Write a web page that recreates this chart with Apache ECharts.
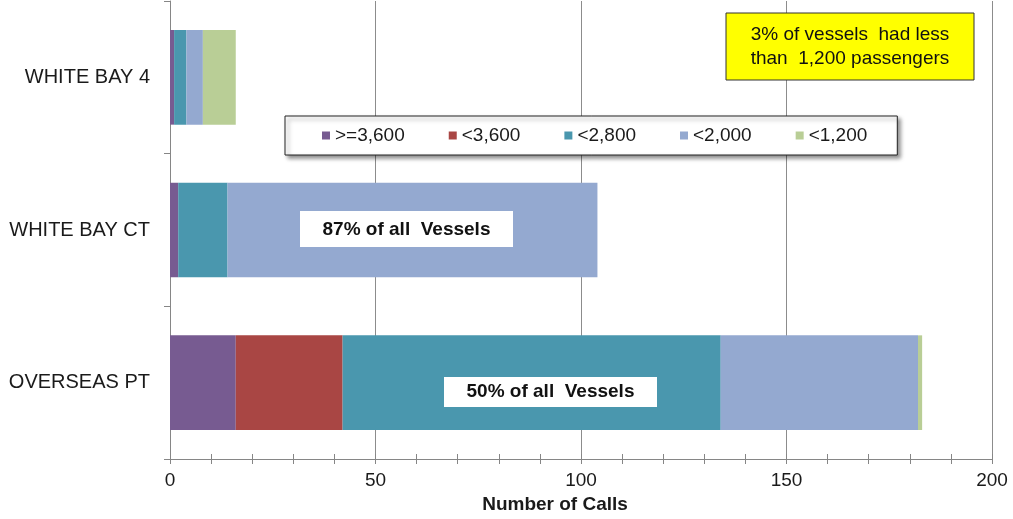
<!DOCTYPE html>
<html>
<head>
<meta charset="utf-8">
<script src="https://cdn.jsdelivr.net/npm/echarts@6/dist/echarts.min.js"></script>
<style>
  html, body { margin: 0; padding: 0; background: #fff; }
  #chart { width: 1013px; height: 519px; }
</style>
</head>
<body>
<div id="chart"></div>
<script>
// Terminals, listed top to bottom
const terminals = ['WHITE BAY 4', 'WHITE BAY CT', 'OVERSEAS PT'];

// Number of calls by vessel passenger capacity
const calls3600Plus = [1, 2, 16];
const calls3600 = [0, 0, 26];
const calls2800 = [3, 12, 92];
const calls2000 = [4, 90, 48];
const calls1200 = [8, 0, 1];

const seriesNames = ['>=3,600', '<3,600', '<2,800', '<2,000', '<1,200'];
const seriesColors = ['#775B91', '#A94644', '#4A97AE', '#94A9D0', '#B9CE96'];
const seriesValues = [calls3600Plus, calls3600, calls2800, calls2000, calls1200];

const xTicks = { min: 0, max: 200, interval: 50 };

const FONT = '"Liberation Sans", Arial, sans-serif';
const axisGray = '#868686';

const chart = echarts.init(document.getElementById('chart'));

const series = seriesNames.map((name, i) => ({
  name: name,
  type: 'bar',
  stack: 'calls',
  barCategoryGap: '38%',
  itemStyle: { color: seriesColors[i] },
  emphasis: { disabled: true },
  data: seriesValues[i]
}));

// Boxed annotation: a filled rectangle with centred text on top
function noteBox(rect, fill, stroke, cx, cy, text, fontWeight, lineHeight) {
  return [
    {
      type: 'rect',
      z: 100,
      shape: rect,
      style: stroke ? { fill: fill, stroke: stroke, lineWidth: 1 } : { fill: fill }
    },
    {
      type: 'text',
      z: 101,
      x: cx,
      y: cy,
      style: {
        text: text,
        fontSize: 19,
        fontWeight: fontWeight,
        lineHeight: lineHeight,
        fontFamily: FONT,
        fill: '#111',
        align: 'center',
        verticalAlign: 'middle'
      }
    }
  ];
}

chart.setOption({
  animation: false,
  textStyle: { fontFamily: FONT },
  grid: { left: 170, right: 21, top: 1, bottom: 57 },
  legend: {
    data: seriesNames,
    left: 285,
    top: 116,
    orient: 'horizontal',
    icon: 'rect',
    itemWidth: 8,
    itemHeight: 8,
    itemGap: 44,
    padding: [10, 30, 10, 37],
    backgroundColor: '#fff',
    borderColor: '#222',
    borderWidth: 1,
    shadowColor: 'rgba(0,0,0,0.45)',
    shadowBlur: 4,
    shadowOffsetX: 3,
    shadowOffsetY: 3,
    textStyle: { fontSize: 19, color: '#1a1a1a', fontFamily: FONT },
    selectedMode: false
  },
  xAxis: [
    {
      type: 'value',
      position: 'bottom',
      min: xTicks.min,
      max: xTicks.max,
      interval: xTicks.interval,
      name: 'Number of Calls',
      nameLocation: 'middle',
      nameGap: 36,
      nameTextStyle: { fontSize: 19, fontWeight: 'bold', color: '#1a1a1a', fontFamily: FONT, padding: [0, 52, 0, 0] },
      axisLine: { show: true, lineStyle: { color: axisGray, width: 1 } },
      axisTick: { show: true, length: 5, lineStyle: { color: axisGray } },
      minorTick: { show: true, splitNumber: 5, length: 5, lineStyle: { color: axisGray } },
      axisLabel: { fontSize: 19, color: '#1a1a1a', margin: 12, fontFamily: FONT },
      splitLine: { show: true, lineStyle: { color: '#8c8c8c', width: 1 } }
    },
    {
      // inner half of the crossing tick marks
      type: 'value',
      position: 'bottom',
      min: xTicks.min,
      max: xTicks.max,
      interval: xTicks.interval,
      axisLine: { show: false },
      axisTick: { show: true, inside: true, length: 5, lineStyle: { color: axisGray } },
      minorTick: { show: true, splitNumber: 5, length: 5, lineStyle: { color: axisGray } },
      axisLabel: { show: false },
      splitLine: { show: false }
    }
  ],
  yAxis: {
    type: 'category',
    data: terminals,
    inverse: true,
    axisLine: { show: true, lineStyle: { color: axisGray, width: 1 } },
    axisTick: { show: true, length: 6, lineStyle: { color: axisGray } },
    axisLabel: { fontSize: 20, color: '#1a1a1a', margin: 20, fontFamily: FONT }
  },
  series: series,
  graphic: [].concat(
    noteBox({ x: 726, y: 13, width: 248, height: 67 }, '#FFFF00', '#333', 850, 46.5,
      '3% of vessels  had less\nthan  1,200 passengers', 'normal', 24),
    noteBox({ x: 300, y: 211, width: 213, height: 36 }, '#fff', null, 406.5, 229.5,
      '87% of all  Vessels', 'bold', 22),
    noteBox({ x: 444, y: 377, width: 213, height: 30 }, '#fff', null, 550.5, 392,
      '50% of all  Vessels', 'bold', 22)
  )
});
</script>
</body>
</html>
